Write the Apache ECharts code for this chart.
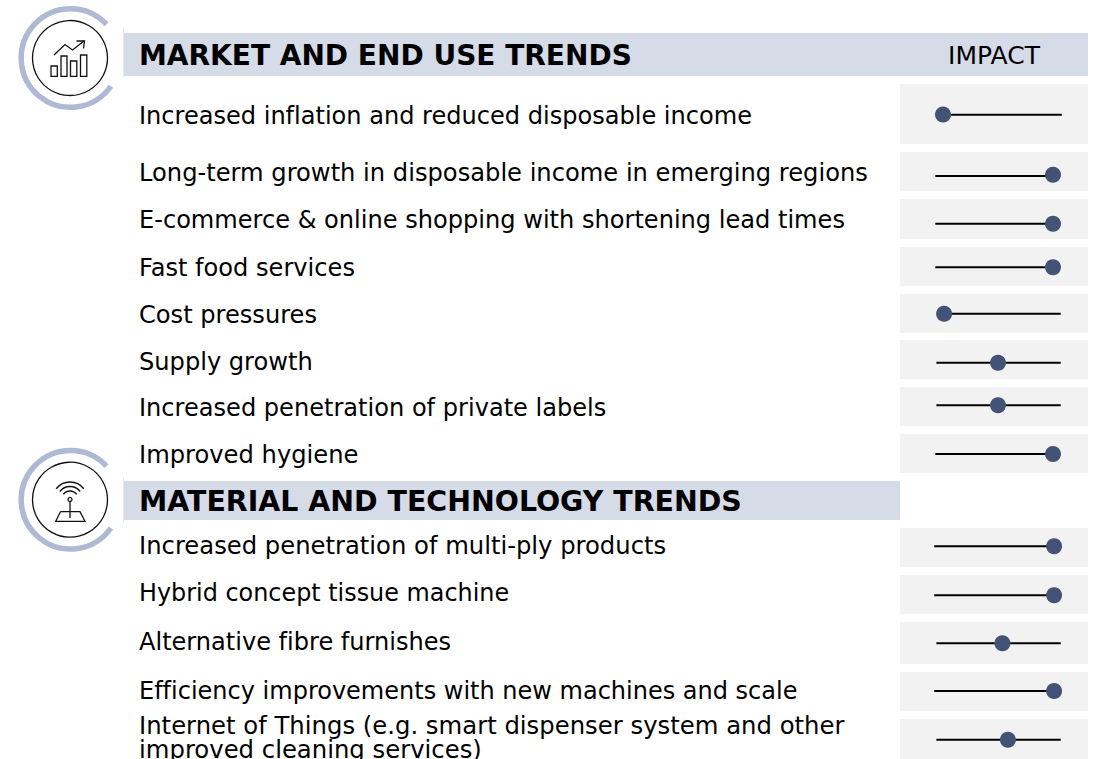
<!DOCTYPE html>
<html>
<head>
<meta charset="utf-8">
<title>Trends</title>
<script src="https://cdn.jsdelivr.net/npm/echarts@6/dist/echarts.min.js"></script>
<style>
html, body { margin: 0; padding: 0; background: #fff; overflow: hidden; }
#main { width: 1094px; height: 759px; }
#main text { font-variant-ligatures: none !important; }
</style>
</head>
<body>
<div id="main"></div>
<script>
// chart data, impact: 0 = low end, 100 = high end
var impactHeader = 'IMPACT';
var sectionTitles = ['MARKET AND END USE TRENDS', 'MATERIAL AND TECHNOLOGY TRENDS'];
var trendLabels = [
	'Increased inflation and reduced disposable income',
	'Long-term growth in disposable income in emerging regions',
	'E-commerce & online shopping with shortening lead times',
	'Fast food services',
	'Cost pressures',
	'Supply growth',
	'Increased penetration of private labels',
	'Improved hygiene',
	'Increased penetration of multi-ply products',
	'Hybrid concept tissue machine',
	'Alternative fibre furnishes',
	'Efficiency improvements with new machines and scale',
	'Internet of Things (e.g. smart dispenser system and other\nimproved cleaning services)'
];
var impactValues = [0, 100, 100, 100, 1, 50, 50, 100, 101, 101, 54, 101, 59];
var trackFrom = [0, -7, -7, -7, 1, -6, -6, -7, -8, -8, -6, -8, -6];
var trackTo = [108, 100, 100, 100, 107, 107, 107, 100, 101, 101, 107, 101, 107];

// layout, in pixels
var bandTop = [84, 152, 199, 247, 294, 340, 387, 434, 528, 575, 622, 672, 719];
var bandBottom = [144, 191, 239, 286, 333, 379, 426, 473, 567, 614, 664, 711, 759];
var trackY = [114.7, 176, 223.7, 267.3, 313.7, 362.7, 405.3, 454, 546.3, 595.3, 643.3, 691, 739.7];
var dotY = [114.5, 174.7, 223.7, 267.3, 313.7, 362.7, 405.3, 454, 546.3, 595.3, 643.3, 691, 739.7];
var labelY = [116, 173, 220, 268, 315, 362, 408, 455, 546, 593, 642, 691, 738];
// small width corrections so each label ends where the reference's does
var labelStretch = [1.003, 1.008, 1.004, 1.005, 1.005, 1.005, 1.004, 1.009, 1.0115, 0.995, 1.003, 1, 1.014];
var bandLeft = 900, bandRight = 1088;
var zeroX = 943, unitPx = 1.1;

var FONT = '"DejaVu Sans", Verdana, sans-serif';
var RING = '#aebad3', HEAD = '#d5dbe7', BAND = '#f2f2f2', DOT = '#425375', INK = '#000000';

var grids = [], xAxes = [], yAxes = [], series = [], gfx = [];

trendLabels.forEach(function (label, i) {
	grids.push({
		show: true, left: bandLeft, width: bandRight - bandLeft,
		top: bandTop[i], height: bandBottom[i] - bandTop[i],
		backgroundColor: BAND, borderWidth: 0
	});
	xAxes.push({
		gridIndex: i, type: 'value', show: false,
		min: (bandLeft - zeroX) / unitPx, max: (bandRight - zeroX) / unitPx
	});
	yAxes.push({
		gridIndex: i, type: 'value', show: false,
		min: trackY[i] - bandBottom[i], max: trackY[i] - bandTop[i]
	});
	series.push({
		type: 'line', xAxisIndex: i, yAxisIndex: i, silent: true, symbol: 'none',
		lineStyle: { color: INK, width: 2 },
		data: [[trackFrom[i], 0], [trackTo[i], 0]]
	});
	series.push({
		type: 'scatter', xAxisIndex: i, yAxisIndex: i, silent: true, z: 3,
		symbolSize: 16, itemStyle: { color: DOT, opacity: 1 },
		data: [[impactValues[i], trackY[i] - dotY[i]]]
	});
	gfx.push(textEl(139, labelY[i], label, 24, 'normal', 'left', i == 12 ? 24 : 0, labelStretch[i]));
});

function textEl(x, y, str, size, weight, align, lh, stretch) {
	return {
		type: 'text', x: x, y: y, z: 10, scaleX: stretch || 1,
		style: {
			text: str, fill: '#000', align: align, verticalAlign: 'middle',
			font: weight + ' ' + size + 'px ' + FONT, lineHeight: lh || undefined
		}
	};
}

function rect(x, y, w, h, fill) {
	return { type: 'rect', z: 1, shape: { x: x, y: y, width: w, height: h }, style: { fill: fill } };
}

function outline(points) {
	return {
		type: 'polyline', z: 5, shape: { points: points },
		style: { stroke: '#111', lineWidth: 1.3, fill: null }
	};
}

function ring(cx, cy) {
	gfx.push({
		type: 'arc', z: 5,
		shape: { cx: cx + 0.5, cy: cy, r: 49.3, startAngle: 35 * Math.PI / 180, endAngle: 317 * Math.PI / 180, clockwise: true },
		style: { stroke: RING, lineWidth: 5.5, fill: null }
	});
	gfx.push({
		type: 'circle', z: 5, shape: { cx: cx, cy: cy, r: 37.5 },
		style: { stroke: '#111', lineWidth: 1.3, fill: '#fff' }
	});
}

// section headers
gfx.push(rect(123, 33, 965, 43, HEAD));
gfx.push(rect(123, 481, 777, 39, HEAD));
gfx.push(rect(123, 28, 1, 50, '#e8ebf1'));
gfx.push(rect(123, 477, 1, 46, '#e8ebf1'));
gfx.push(textEl(139, 55, sectionTitles[0], 28, 'bold', 'left'));
gfx.push(textEl(139, 502, sectionTitles[1], 28, 'bold', 'left', 0, 1.015));
gfx.push(textEl(994, 55, impactHeader, 25, 'normal', 'center'));

// chart icon
ring(70, 58);
[[51, 66, 6.3, 10.3], [61, 56, 6, 20.3], [70.5, 61, 6.3, 15.3], [80.5, 55, 6.3, 21.3]].forEach(function (b) {
	gfx.push({
		type: 'rect', z: 6, shape: { x: b[0], y: b[1], width: b[2], height: b[3] },
		style: { stroke: '#111', lineWidth: 1.3, fill: null }
	});
});
gfx.push(outline([[54, 55], [65, 44.5], [72.5, 50], [84, 41]]));
gfx.push(outline([[76.5, 41], [84.5, 41], [83.5, 48.5]]));

// antenna icon
ring(70, 499.7);
[17.5, 13, 8.5].forEach(function (r) {
	gfx.push({
		type: 'arc', z: 6,
		shape: { cx: 70, cy: 499.5, r: r, startAngle: 218 * Math.PI / 180, endAngle: 322 * Math.PI / 180, clockwise: true },
		style: { stroke: '#111', lineWidth: 1.3, fill: null }
	});
});
gfx.push({ type: 'circle', z: 6, shape: { cx: 70, cy: 499.5, r: 2 }, style: { stroke: '#111', lineWidth: 1.3, fill: '#fff' } });
gfx.push(outline([[70, 501.5], [70, 518]]));
gfx.push(outline([[60.5, 511.7], [80, 511.7], [85, 521.3], [55.7, 521.3], [60.5, 511.7]]));

var myChart = echarts.init(document.getElementById('main'), null, { renderer: 'svg' });
myChart.setOption({
	animation: false,
	backgroundColor: '#fff',
	tooltip: { show: false },
	grid: grids,
	xAxis: xAxes,
	yAxis: yAxes,
	series: series,
	graphic: { elements: gfx }
});
</script>
</body>
</html>
